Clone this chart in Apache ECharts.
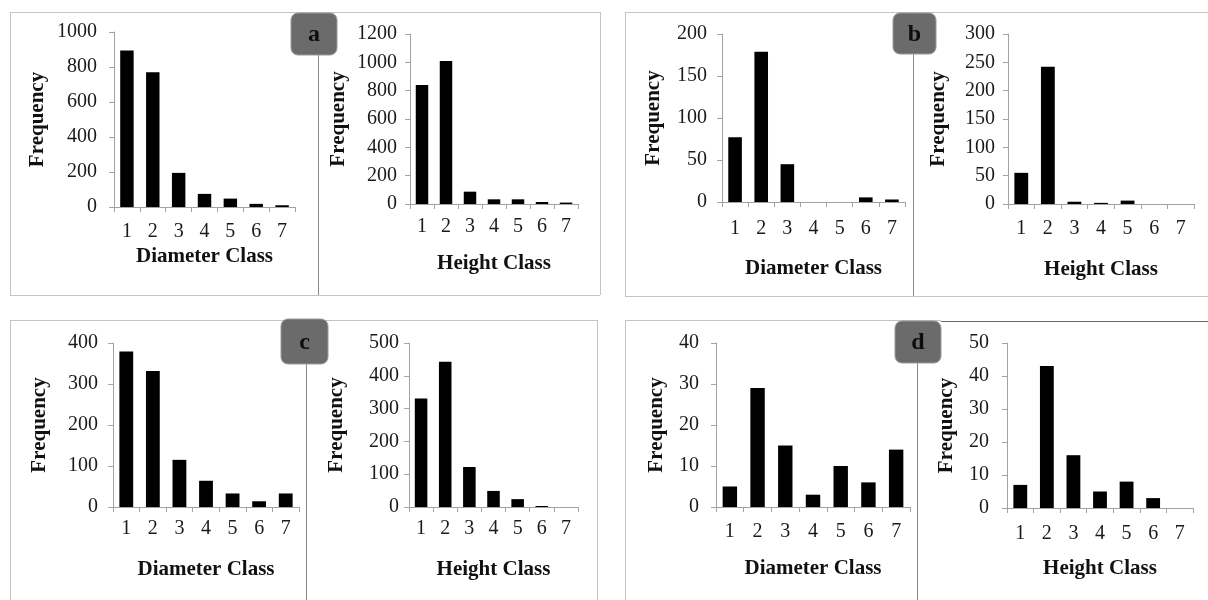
<!DOCTYPE html>
<html>
<head>
<meta charset="utf-8">
<script src="https://cdn.jsdelivr.net/npm/echarts@6/dist/echarts.min.js"></script>
<style>
html,body{margin:0;padding:0;background:#fff;}
#chart{width:1208px;height:600px;}
</style>
</head>
<body>
<div id="chart"></div>
<script>
// ---- data ----
const classes = ['1', '2', '3', '4', '5', '6', '7'];
const aDiameter = [895, 770, 195, 75, 48, 18, 10];
const aHeight = [840, 1010, 87, 33, 33, 14, 10];
const bDiameter = [77, 179, 45, 0, 0, 5.5, 3];
const bHeight = [55, 242, 4, 2, 6, 0, 0];
const cDiameter = [379, 332, 115, 64, 33, 14, 33];
const cHeight = [331, 443, 122, 49, 24, 3, 0];
const dDiameter = [5, 29, 15, 3, 10, 6, 14];
const dHeight = [7, 43, 16, 5, 8, 3, 0];
const yMax = [1000, 1200, 200, 300, 400, 500, 40, 50];
const yStep = [200, 200, 50, 50, 100, 100, 10, 10];
const xNames = ['Diameter Class', 'Height Class', 'Diameter Class', 'Height Class',
                'Diameter Class', 'Height Class', 'Diameter Class', 'Height Class'];
const yName = 'Frequency';
const panelLetters = ['a', 'b', 'c', 'd'];

const seriesData = [aDiameter, aHeight, bDiameter, bHeight, cDiameter, cHeight, dDiameter, dHeight];

// ---- layout (pixels) ----
const grids = [
  {l: 114, r: 295, t: 32, b: 207, xm: 15, xg: 39, ym: 17, yg: 66},
  {l: 410, r: 578, t: 34, b: 204, xm: 13, xg: 49, ym: 13, yg: 61},
  {l: 722, r: 905, t: 34, b: 202, xm: 17, xg: 56, ym: 15, yg: 58},
  {l: 1008, r: 1194, t: 34, b: 204, xm: 15, xg: 55, ym: 13, yg: 59},
  {l: 113, r: 299, t: 343, b: 507, xm: 12, xg: 52, ym: 15, yg: 63},
  {l: 409, r: 578, t: 343, b: 507, xm: 12, xg: 52, ym: 10, yg: 62},
  {l: 716, r: 910, t: 343, b: 507, xm: 15, xg: 51, ym: 17, yg: 49},
  {l: 1007, r: 1193, t: 343, b: 508, xm: 16, xg: 50, ym: 18, yg: 50}
];

const FONT = '"Liberation Serif", "Times New Roman", serif';
const axisGray = '#a3a3a3';

const option = {
  backgroundColor: '#fff',
  animation: false,
  grid: grids.map(g => ({
    left: g.l, top: g.t, width: g.r - g.l, height: g.b - g.t,
    containLabel: false, outerBoundsMode: 'none'
  })),
  xAxis: grids.map((g, i) => ({
    type: 'category', gridIndex: i, data: classes, boundaryGap: true,
    name: xNames[i], nameLocation: 'middle', nameGap: g.xg,
    nameTextStyle: {fontFamily: FONT, fontWeight: 'bold', fontSize: 21, color: '#111'},
    axisLine: {show: true, lineStyle: {color: axisGray, width: 1}},
    axisTick: {show: true, length: 5, lineStyle: {color: axisGray}},
    axisLabel: {fontFamily: FONT, fontSize: 20, color: '#1a1a1a', margin: g.xm},
    splitLine: {show: false}
  })),
  yAxis: grids.map((g, i) => ({
    type: 'value', gridIndex: i, min: 0, max: yMax[i], interval: yStep[i],
    name: yName, nameLocation: 'middle', nameGap: g.yg, nameRotate: 90,
    nameTextStyle: {fontFamily: FONT, fontWeight: 'bold', fontSize: 21, color: '#111'},
    axisLine: {show: true, lineStyle: {color: axisGray, width: 1}},
    axisTick: {show: true, length: 5, lineStyle: {color: axisGray}},
    axisLabel: {fontFamily: FONT, fontSize: 20, color: '#1a1a1a', margin: g.ym,
                formatter: v => String(v)},
    splitLine: {show: false}
  })),
  series: seriesData.map((d, i) => ({
    type: 'bar', xAxisIndex: i, yAxisIndex: i, data: d,
    barWidth: '52%',
    itemStyle: {color: '#000'}
  })),
  graphic: []
};

// ---- decorative frames and panel tags ----
const frameColor = '#c4c4c4';
const divColor = '#8a8a8a';
function line(x1, y1, x2, y2, c, w) {
  return {type: 'line', shape: {x1, y1, x2, y2}, style: {stroke: c, lineWidth: w || 1}, silent: true, z: 1};
}
const frames = [
  // panel a
  line(10, 12.5, 600, 12.5, frameColor), line(10.5, 12, 10.5, 295, frameColor),
  line(10, 295.5, 600, 295.5, frameColor), line(600.5, 12, 600.5, 295, frameColor),
  line(318.5, 55, 318.5, 295, divColor),
  // panel b
  line(625, 12.5, 1208, 12.5, frameColor), line(625.5, 12, 625.5, 296, frameColor),
  line(625, 296.5, 1208, 296.5, frameColor),
  line(913.5, 54, 913.5, 296, divColor),
  // panel c
  line(10, 320.5, 597, 320.5, frameColor), line(10.5, 320, 10.5, 600, frameColor),
  line(597.5, 320, 597.5, 600, frameColor),
  line(306.5, 364, 306.5, 600, divColor),
  // panel d
  line(625, 320.5, 941, 320.5, frameColor), line(941, 321.5, 1208, 321.5, '#6a6a6a'),
  line(625.5, 320, 625.5, 600, frameColor),
  line(917.5, 363, 917.5, 600, divColor)
];
const tags = [
  {x: 291, y: 13, w: 46, h: 42},
  {x: 893, y: 13, w: 43, h: 41},
  {x: 281, y: 319, w: 47, h: 45},
  {x: 895, y: 321, w: 46, h: 42}
];
tags.forEach((t, i) => {
  frames.push({
    type: 'rect', shape: {x: t.x, y: t.y, width: t.w, height: t.h, r: 7},
    style: {fill: '#6b6b6b', stroke: '#9a9a9a', lineWidth: 1}, z: 5, silent: true
  });
  frames.push({
    type: 'text', x: t.x + t.w / 2, y: t.y + t.h / 2 + 1, z: 6, silent: true,
    style: {text: panelLetters[i], fontFamily: FONT, fontWeight: 'bold', fontSize: 24,
            fill: '#0d0d0d', align: 'center', verticalAlign: 'middle'}
  });
});
option.graphic = frames;

const chart = echarts.init(document.getElementById('chart'));
chart.setOption(option);
</script>
</body>
</html>
